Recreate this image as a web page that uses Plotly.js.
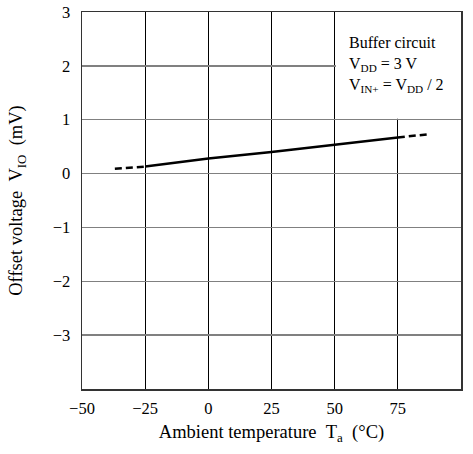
<!DOCTYPE html>
<html>
<head>
<meta charset="utf-8">
<script src="https://cdn.plot.ly/plotly-3.0.1.min.js"></script>
<style>html,body{margin:0;padding:0;background:#fff;}#chart{width:473px;height:454px;}</style>
</head>
<body>
<div id="chart"></div>
<script>
// Offset voltage vs ambient temperature
const tempsLow = [-37, -25];
const vioLow = [0.09, 0.13];
const tempsMain = [-25, 0, 25, 50, 75];
const vioMain = [0.13, 0.28, 0.40, 0.54, 0.67];
const tempsHigh = [75, 87];
const vioHigh = [0.67, 0.73];

const xTicks = [-50, -25, 0, 25, 50, 75, 100];
const xTickText = ['\u221250', '\u221225', '0', '25', '50', '75', '100'];
const yTicks = [-3, -2, -1, 0, 1, 2, 3];
const yTickText = ['\u22123', '\u22122', '\u22121', '0', '1', '2', '3'];

const FONT = 'Liberation Serif, Times New Roman, serif';
const lineStyle = {color: '#000', width: 2.5};

const traces = [
  {x: tempsLow, y: vioLow, mode: 'lines', line: Object.assign({dash: '7px,4px'}, lineStyle), hoverinfo: 'skip'},
  {x: tempsMain, y: vioMain, mode: 'lines', line: lineStyle, hoverinfo: 'skip'},
  {x: tempsHigh, y: vioHigh, mode: 'lines', line: Object.assign({dash: '7px,4px'}, lineStyle), hoverinfo: 'skip'}
];

const layout = {
  width: 473, height: 454,
  margin: {l: 82, r: 12, t: 12, b: 65},
  paper_bgcolor: '#fff', plot_bgcolor: '#fff',
  showlegend: false,
  font: {family: FONT, size: 16.5, color: '#000'},
  xaxis: {
    range: [-50, 100], tickvals: xTicks, ticktext: xTickText,
    showgrid: true, gridcolor: '#000', gridwidth: 1,
    zeroline: false, showline: true, linecolor: '#333', linewidth: 1.5, mirror: true,
    ticks: '', ticklabelstandoff: 4,
    tickfont: {family: FONT, size: 16.5, color: '#000'},
    title: {text: 'Ambient temperature\u00A0\u00A0T<sub>a</sub>\u00A0\u00A0(°C)', font: {family: FONT, size: 18.5, color: '#000'}, standoff: 8}
  },
  yaxis: {
    range: [-4, 3], tickvals: yTicks, ticktext: yTickText,
    showgrid: true, gridcolor: '#808080', gridwidth: 1.5,
    zeroline: false, showline: true, linecolor: '#333', linewidth: 1.5, mirror: true,
    ticks: '', ticklabelstandoff: 7,
    tickfont: {family: FONT, size: 16.5, color: '#000'},
    title: {text: 'Offset voltage\u00A0\u00A0V<sub>IO</sub>\u00A0\u00A0(mV)', font: {family: FONT, size: 18.5, color: '#000'}, standoff: 25}
  },
  shapes: [
    {type: 'rect', xref: 'x', yref: 'y', x0: 50.5, x1: 100, y0: 1.02, y1: 3, fillcolor: '#fff', line: {width: 0}, layer: 'between'}
  ],
  annotations: [
    {xref: 'x', yref: 'y', x: 54.7, y: 2.62, xanchor: 'left', yanchor: 'top', align: 'left', showarrow: false,
     text: 'Buffer circuit<br>V<sub>DD</sub> = 3 V<br>V<sub>IN+</sub> = V<sub>DD</sub> / 2',
     font: {family: FONT, size: 16, color: '#000'}}
  ]
};

Plotly.newPlot('chart', traces, layout, {staticPlot: true, displayModeBar: false});
</script>
</body>
</html>
